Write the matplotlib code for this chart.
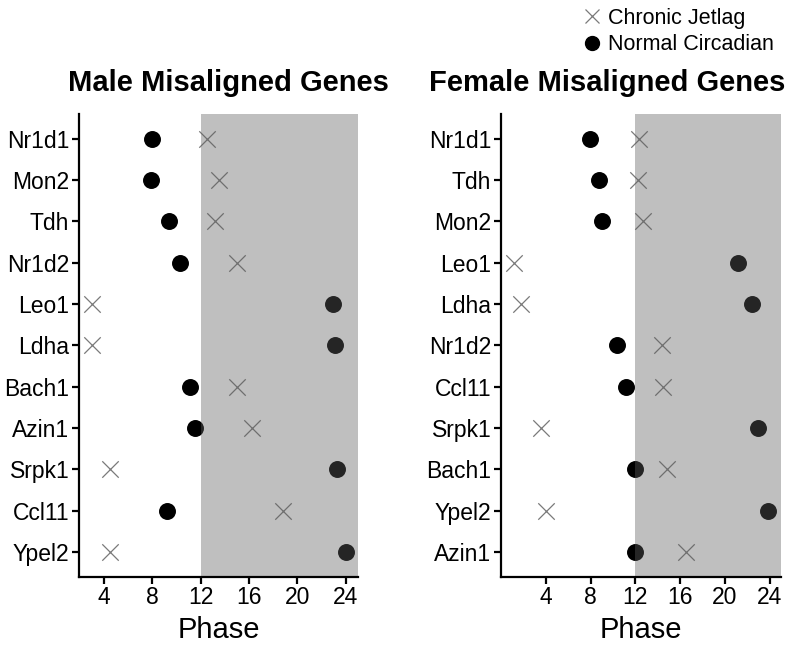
import matplotlib.pyplot as plt
from matplotlib.lines import Line2D

plt.rcParams['font.family'] = ['Liberation Sans', 'DejaVu Sans']

# datos
male_genes = ["Nr1d1", "Mon2", "Tdh", "Nr1d2", "Leo1", "Ldha", "Bach1", "Azin1", "Srpk1", "Ccl11", "Ypel2"]
male_normal = [8.0, 7.9, 9.4, 10.3, 22.9, 23.1, 11.15, 11.5, 23.3, 9.2, 24.0]
male_jetlag = [12.5, 13.5, 13.15, 15.0, 3.05, 3.05, 15.0, 16.2, 4.5, 18.8, 4.5]

female_genes = ["Nr1d1", "Tdh", "Mon2", "Leo1", "Ldha", "Nr1d2", "Ccl11", "Srpk1", "Bach1", "Ypel2", "Azin1"]
female_normal = [7.95, 8.75, 9.05, 21.15, 22.45, 10.35, 11.2, 22.9, 12.0, 23.8, 11.95]
female_jetlag = [12.35, 12.25, 12.7, 1.2, 1.75, 14.4, 14.5, 3.55, 14.85, 4.0, 16.55]

fig = plt.figure(figsize=(7.89, 6.5), dpi=100)
ax1 = fig.add_axes([0.1001, 0.1128, 0.3536, 0.7118])
ax2 = fig.add_axes([0.635, 0.1128, 0.3549, 0.7118])


def panel(ax, genes, normal, jetlag, xmin):
    y = list(range(len(genes)))
    ax.scatter(normal, y, s=125, color="black", marker="o", zorder=2)
    ax.scatter(jetlag, y, s=140, color="#7a7a7a", marker="x", linewidths=0.9, zorder=2)
    ax.axvspan(12, 25, color="#5f5f5f", alpha=0.4, lw=0, zorder=3)
    ax.set_xlim(xmin, 25)
    ax.set_ylim(len(genes) - 0.4, -0.6)
    ax.set_yticks(y)
    ax.set_yticklabels(genes)
    ax.set_xticks([4, 8, 12, 16, 20, 24])
    ax.set_xlabel("Phase", fontsize=21, labelpad=5)
    for s in ["top", "right"]:
        ax.spines[s].set_visible(False)
    for s in ["left", "bottom"]:
        ax.spines[s].set_linewidth(1.6)
        ax.spines[s].set_zorder(4)
    ax.tick_params(axis="both", labelsize=16.5, length=5, width=1.6, color="black", labelcolor="black", pad=2)


panel(ax1, male_genes, male_normal, male_jetlag, 1.94)
panel(ax2, female_genes, female_normal, female_jetlag, 0)

fig.text(0.289, 0.872, "Male Misaligned Genes", fontsize=21, fontweight="bold", ha="center", va="center")
fig.text(0.77, 0.872, "Female Misaligned Genes", fontsize=21, fontweight="bold", ha="center", va="center")

handles = [
    Line2D([], [], marker="x", color="#7a7a7a", linestyle="none", markersize=10, markeredgewidth=0.9),
    Line2D([], [], marker="o", color="black", linestyle="none", markersize=10),
]
fig.legend(handles, ["Chronic Jetlag", "Normal Circadian"], loc="upper left",
           bbox_to_anchor=(0.715, 1.018), frameon=False, fontsize=15.5,
           handlelength=0.8, handletextpad=0.35, labelspacing=0.25)

plt.savefig("out.png")
